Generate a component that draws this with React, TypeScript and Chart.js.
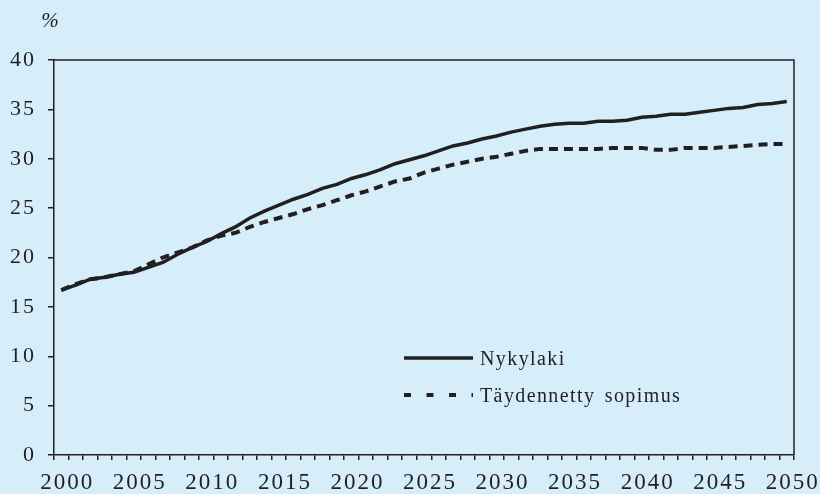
import React, { useEffect, useRef } from "react";
import { Chart, registerables } from "chart.js";

Chart.register(...registerables);

const years: string[] = [
  "2000", "2001", "2002", "2003", "2004", "2005", "2006", "2007", "2008", "2009",
  "2010", "2011", "2012", "2013", "2014", "2015", "2016", "2017", "2018", "2019",
  "2020", "2021", "2022", "2023", "2024", "2025", "2026", "2027", "2028", "2029",
  "2030", "2031", "2032", "2033", "2034", "2035", "2036", "2037", "2038", "2039",
  "2040", "2041", "2042", "2043", "2044", "2045", "2046", "2047", "2048", "2049",
  "2050",
];

const nykylaki: number[] = [
  16.7, 17.2, 17.8, 18.0, 18.3, 18.5, 19.0, 19.5, 20.3, 21.0,
  21.6, 22.4, 23.1, 24.0, 24.7, 25.3, 25.9, 26.4, 27.0, 27.4,
  28.0, 28.4, 28.9, 29.5, 29.9, 30.3, 30.8, 31.3, 31.6, 32.0,
  32.3, 32.7, 33.0, 33.3, 33.5, 33.6, 33.6, 33.8, 33.8, 33.9,
  34.2, 34.3, 34.5, 34.5, 34.7, 34.9, 35.1, 35.2, 35.5, 35.6,
  35.8,
];

const taydennetty: number[] = [
  16.7, 17.3, 17.8, 18.0, 18.3, 18.6, 19.3, 20.0, 20.5, 21.0,
  21.7, 22.2, 22.5, 23.1, 23.6, 24.0, 24.4, 24.9, 25.3, 25.8,
  26.3, 26.7, 27.2, 27.7, 28.0, 28.6, 29.0, 29.4, 29.7, 30.0,
  30.2, 30.5, 30.8, 31.0, 31.0, 31.0, 31.0, 31.0, 31.1, 31.1,
  31.1, 30.9, 30.9, 31.1, 31.1, 31.1, 31.2, 31.3, 31.4, 31.5,
  31.5,
];

const seriesLabels: string[] = ["Nykylaki", "Täydennetty sopimus"];
const unitLabel = "%";

const INK = "#231f20";
const BG = "#d5eefa";
const FONT = '"Liberation Serif", "Times New Roman", serif';

export default function App() {
  const ref = useRef<HTMLCanvasElement>(null);

  useEffect(() => {
    const canvas = ref.current;
    if (!canvas) return;

    const setSpacing = (c: any) => {
      (c.ctx as any).letterSpacing = "2px";
    };

    const deco = {
      id: "deco",
      beforeLayout(c: any) {
        setSpacing(c);
      },
      beforeDraw(c: any) {
        setSpacing(c);
        const ctx = c.ctx;
        ctx.save();
        ctx.fillStyle = BG;
        ctx.fillRect(0, 0, c.width, c.height);
        ctx.restore();
      },
      afterDraw(c: any) {
        const ctx = c.ctx;
        const a = c.chartArea;
        ctx.save();
        // top and right frame
        ctx.strokeStyle = INK;
        ctx.lineWidth = 1.5;
        ctx.setLineDash([]);
        ctx.beginPath();
        ctx.moveTo(a.left, a.top);
        ctx.lineTo(a.right, a.top);
        ctx.lineTo(a.right, a.bottom);
        ctx.stroke();

        // unit label
        ctx.fillStyle = INK;
        (ctx as any).letterSpacing = "0px";
        ctx.font = `italic 21px ${FONT}`;
        ctx.textAlign = "center";
        ctx.textBaseline = "middle";
        ctx.fillText(unitLabel, 50, 21);

        // legend
        const lx0 = a.left + 350;
        const lx1 = a.left + 419;
        const tx = a.left + 426;
        const rows = [a.top + 298, a.top + 335];
        c.data.datasets.forEach((ds: any, i: number) => {
          const y = rows[i];
          ctx.strokeStyle = ds.borderColor;
          ctx.lineWidth = ds.borderWidth;
          ctx.setLineDash(ds.borderDash && ds.borderDash.length ? [7, 15.5] : []);
          ctx.beginPath();
          ctx.moveTo(lx0, y);
          ctx.lineTo(lx1, y);
          ctx.stroke();
          ctx.setLineDash([]);
          (ctx as any).letterSpacing = "1.4px";
          (ctx as any).wordSpacing = "3px";
          ctx.font = `20px ${FONT}`;
          ctx.textAlign = "left";
          ctx.textBaseline = "middle";
          ctx.fillStyle = INK;
          ctx.fillText(ds.label, tx, y + 2);
        });
        ctx.restore();
      },
    };

    const chart = new Chart(canvas, {
      type: "line",
      data: {
        labels: years,
        datasets: [
          {
            label: seriesLabels[0],
            data: nykylaki,
            borderColor: INK,
            borderWidth: 3.5,
            pointRadius: 0,
            tension: 0,
            fill: false,
          },
          {
            label: seriesLabels[1],
            data: taydennetty,
            borderColor: INK,
            borderWidth: 4,
            borderDash: [9, 6],
            pointRadius: 0,
            tension: 0,
            fill: false,
          },
        ],
      },
      options: {
        animation: false,
        responsive: true,
        maintainAspectRatio: false,
        layout: { padding: { top: 60, right: 26, left: 0, bottom: 0 } },
        plugins: {
          legend: { display: false },
          tooltip: { enabled: false },
        },
        scales: {
          x: {
            type: "category",
            offset: true,
            afterFit: (s: any) => {
              s.height = 39;
              s.paddingLeft = 0;
              s.paddingRight = 0;
            },
            grid: {
              display: true,
              offset: true,
              drawOnChartArea: false,
              drawTicks: true,
              tickLength: 5,
              color: INK,
              lineWidth: 1.5,
            },
            border: { display: true, color: INK, width: 1.5 },
            ticks: {
              autoSkip: false,
              maxRotation: 0,
              minRotation: 0,
              padding: 9,
              labelOffset: 6,
              color: INK,
              font: { family: FONT, size: 23 },
              callback: (_v: any, i: number) =>
                Number(years[i]) % 5 === 0 ? years[i] : "",
            },
          },
          y: {
            min: 0,
            max: 40,
            afterFit: (s: any) => {
              s.width = 54;
              s.paddingTop = 0;
              s.paddingBottom = 0;
            },
            grid: {
              display: true,
              drawOnChartArea: false,
              drawTicks: true,
              tickLength: 6,
              color: INK,
              lineWidth: 1.5,
            },
            border: { display: true, color: INK, width: 1.5 },
            ticks: {
              stepSize: 5,
              padding: 12,
              color: INK,
              font: { family: FONT, size: 22 },
            },
          },
        },
      },
      plugins: [deco],
    } as any);

    return () => chart.destroy();
  }, []);

  return (
    <div
      style={{
        position: "fixed",
        left: 0,
        top: 0,
        width: 820,
        height: 494,
        background: BG,
      }}
    >
      <canvas ref={ref} />
    </div>
  );
}
